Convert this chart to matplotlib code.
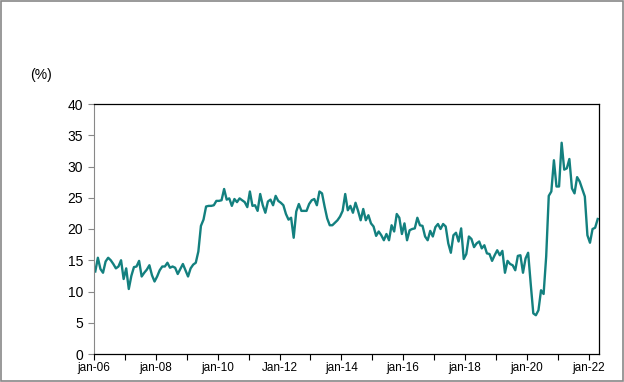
import matplotlib
matplotlib.use('Agg')
import matplotlib.pyplot as plt
import numpy as np

plt.rcParams['font.family'] = ['Liberation Sans', 'DejaVu Sans']

# monthly values, jan-06 .. apr-22 (%)
y2006 = [13.2, 15.4, 13.6, 13.0, 14.8, 15.4, 15.0, 14.4, 13.7, 14.0, 15.0, 12.0]
y2007 = [13.7, 10.4, 12.5, 13.9, 14.0, 14.9, 12.4, 13.0, 13.5, 14.2, 12.6, 11.6]
y2008 = [12.4, 13.4, 14.0, 14.0, 14.6, 13.8, 14.0, 13.8, 12.8, 13.6, 14.4, 13.4]
y2009 = [12.4, 13.7, 14.3, 14.6, 16.4, 20.5, 21.5, 23.6, 23.7, 23.7, 23.8, 24.5]
y2010 = [24.5, 24.6, 26.4, 24.7, 24.9, 23.7, 24.8, 24.3, 24.9, 24.6, 24.3, 23.5]
y2011 = [26.0, 23.7, 23.8, 22.9, 25.6, 23.8, 22.6, 24.4, 24.7, 23.8, 25.3, 24.5]
y2012 = [24.2, 23.8, 22.4, 21.5, 21.8, 18.6, 22.8, 24.0, 22.9, 22.9, 22.9, 24.0]
y2013 = [24.6, 24.8, 23.8, 26.0, 25.7, 23.6, 21.7, 20.6, 20.6, 21.0, 21.4, 22.0]
y2014 = [22.9, 25.6, 23.0, 23.7, 22.6, 24.2, 22.9, 21.4, 23.2, 21.4, 22.2, 20.9]
y2015 = [20.4, 18.9, 19.6, 19.0, 18.2, 19.2, 18.2, 20.6, 19.6, 22.4, 21.8, 19.2]
y2016 = [20.9, 18.2, 19.8, 20.0, 20.1, 21.8, 20.6, 20.5, 18.8, 18.2, 19.7, 18.8]
y2017 = [20.3, 20.8, 20.0, 20.8, 20.4, 17.7, 16.2, 19.0, 19.4, 18.0, 20.1, 15.2]
y2018 = [16.0, 18.8, 18.4, 17.1, 17.7, 18.0, 16.9, 17.4, 16.1, 16.0, 14.9, 15.8]
y2019 = [16.6, 15.8, 16.5, 13.0, 14.9, 14.4, 14.2, 13.4, 15.7, 15.8, 13.0, 15.3]
y2020 = [16.2, 11.2, 6.5, 6.2, 7.0, 10.2, 9.6, 15.6, 25.3, 26.0, 31.0, 26.8]
y2021 = [26.8, 33.8, 29.5, 29.7, 31.2, 26.5, 25.7, 28.3, 27.6, 26.4, 25.2, 19.0]
y2022 = [17.8, 20.0, 20.2, 21.6]

values = (y2006 + y2007 + y2008 + y2009 + y2010 + y2011 + y2012 + y2013 + y2014
          + y2015 + y2016 + y2017 + y2018 + y2019 + y2020 + y2021 + y2022)
tick_labels = ['jan-06', 'jan-08', 'jan-10', 'Jan-12', 'jan-14',
               'jan-16', 'jan-18', 'jan-20', 'jan-22']

n = len(values)
x = np.arange(n)

fig = plt.figure(figsize=(6.24, 3.82), dpi=100)
ax = fig.add_axes([94/624, 1-354/382, 505/624, 250/382])

ax.plot(x, values, color='#13807f', lw=1.7, solid_joinstyle='round')

ax.set_xlim(-0.5, n - 0.5)
ax.set_ylim(0, 40)
ax.set_yticks(range(0, 41, 5))
ax.tick_params(axis='y', labelsize=10, colors='#888888', length=4, width=0.8,
               labelcolor='black', pad=4)

xt = np.arange(-0.5, n, 12)
ax.set_xticks(xt)
lab = []
for i in range(len(xt)):
    lab.append(tick_labels[i // 2] if i % 2 == 0 else '')
ax.set_xticklabels(lab)
ax.tick_params(axis='x', labelsize=8.5, length=4, width=0.8, pad=2)

ax.spines['left'].set_color('#888888')
for s in ['top', 'right', 'bottom']:
    ax.spines[s].set_color('black')
    ax.spines[s].set_linewidth(0.9)

fig.text(30/624, 1-75/382, '(%)', fontsize=10, va='center', ha='left')

fig.patches.append(plt.Rectangle((0.001, 0.002), 0.997, 0.995, transform=fig.transFigure,
                                 fill=False, edgecolor='#888888', lw=1.2))

fig.savefig('out.png', dpi=100)
